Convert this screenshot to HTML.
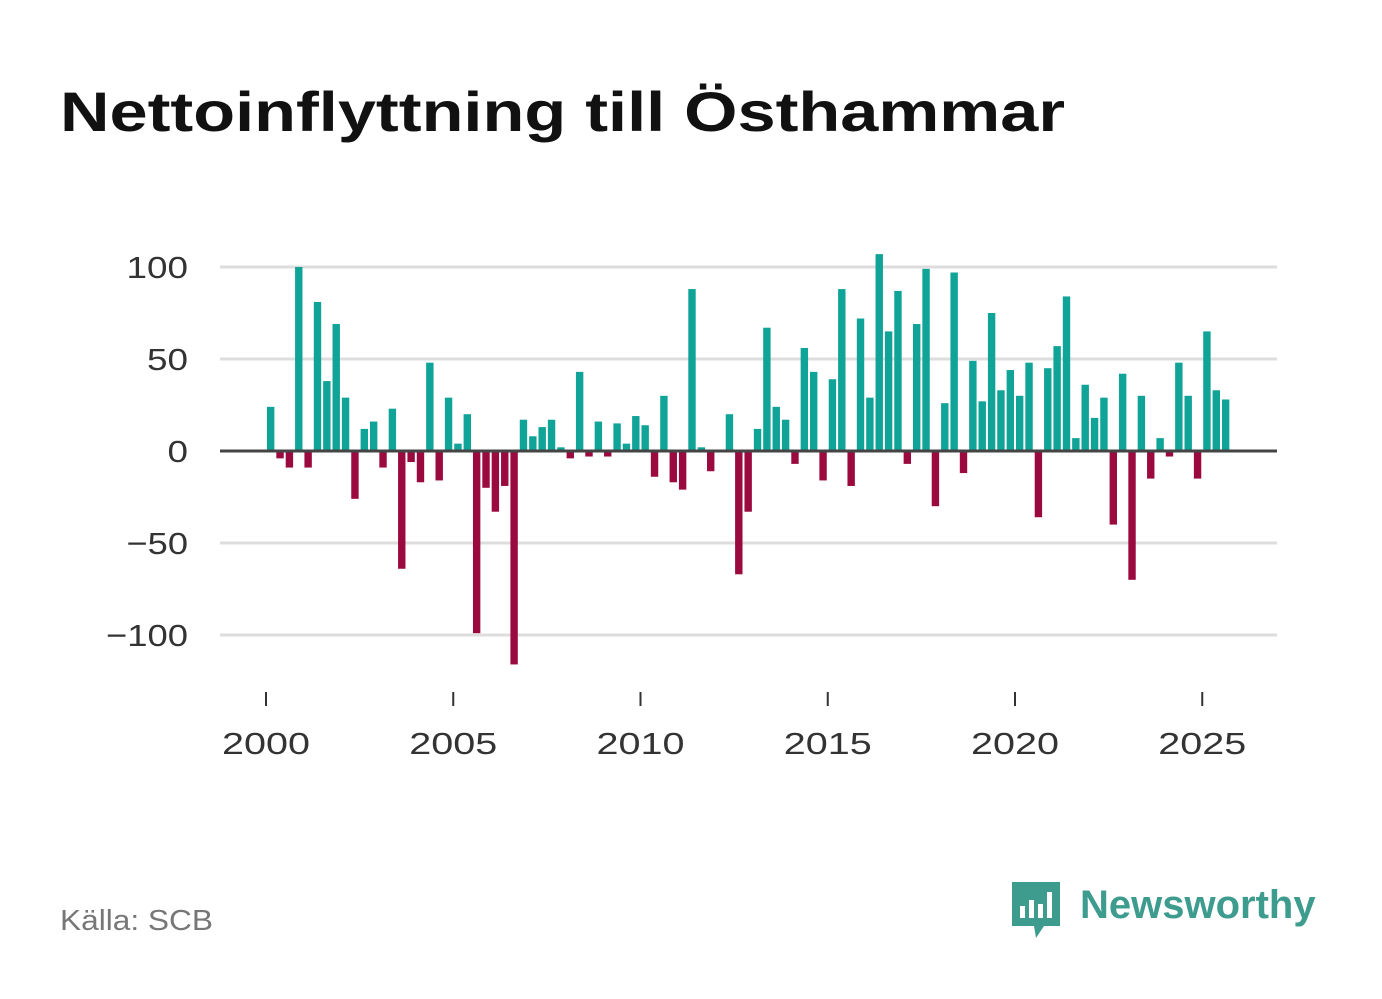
<!DOCTYPE html>
<html><head><meta charset="utf-8">
<style>
body{margin:0;background:#fff;font-family:"Liberation Sans",sans-serif;}
#wrap{position:relative;width:1382px;height:999px;overflow:hidden;}
</style></head>
<body>
<div id="wrap">
<svg id="chart" width="1382" height="999">
<text x="60" y="131" font-size="56" font-weight="bold" fill="#111" textLength="1005" lengthAdjust="spacingAndGlyphs">Nettoinflyttning till Östhammar</text>
<g id="grid"></g><g id="bars"></g><g id="xaxis"></g>
<text x="60" y="930" font-size="29" fill="#777" textLength="153" lengthAdjust="spacingAndGlyphs">Källa: SCB</text>
<g>
<path d="M1012 882 h48 v44 h-16 l-8 12 l-2 -12 h-22 z" fill="#3e9c8f"/>
<rect x="1020" y="906" width="5" height="12" fill="#fff"/><rect x="1029" y="900" width="5" height="18" fill="#fff"/><rect x="1038" y="904" width="5" height="14" fill="#fff"/><rect x="1047" y="892" width="5" height="26" fill="#fff"/>
<text x="1080" y="918" font-size="40" font-weight="bold" fill="#3e9c8f">Newsworthy</text>
</g>
</svg>
</div>
<script>
const startYear=2000;
const values=[24,-4,-9,100,-9,81,38,69,29,-26,12,16,-9,23,-64,-6,-17,48,-16,29,4,20,-99,-20,-33,-19,-116,17,8,13,17,2,-4,43,-3,16,-3,15,4,19,14,-14,30,-17,-21,88,2,-11,0,20,-67,-33,12,67,24,17,-7,56,43,-16,39,88,-19,72,29,107,65,87,-7,69,99,-30,26,97,-12,49,27,75,33,44,30,48,-36,45,57,84,7,36,18,29,-40,42,-70,30,-15,7,-3,48,30,-15,65,33,28];
const yTicks=[100,50,0,-50,-100];
const yTickLabels=["100","50","0","−50","−100"];
const xTicks=[2000,2005,2010,2015,2020,2025];
const NS="http://www.w3.org/2000/svg";
const x=t=>266+(t-2000)*37.45;
const y=v=>451-v*1.84;
function mk(tag,attrs,parent){const e=document.createElementNS(NS,tag);for(const k in attrs)e.setAttribute(k,attrs[k]);parent.appendChild(e);return e;}
const grid=document.getElementById('grid'),bars=document.getElementById('bars'),xa=document.getElementById('xaxis');
yTicks.forEach((v,i)=>{
 if(v!==0){const l=mk('line',{x1:220,x2:1277,y1:y(v),y2:y(v),stroke:'#ddd','stroke-width':3},grid);
 
 }
 const lab=yTickLabels[i];
 const t=mk('text',{x:188,y:y(v)+11,'font-size':31,fill:'#333','text-anchor':'end',textLength:lab.length*20.5,lengthAdjust:'spacingAndGlyphs'},grid);t.textContent=lab;
 
 
});
values.forEach((v,i)=>{
 const cx=x(startYear+(i+0.5)/4);
 const r=mk('rect',{x:cx-3.7,width:7.4,y:Math.min(y(v),y(0)),height:Math.abs(y(v)-y(0)),fill:v>=0?'#10a398':'#9b0a3e'},bars);
 
 
});
const zl=mk('line',{x1:220,x2:1277,y1:y(0),y2:y(0),stroke:'#444','stroke-width':3},bars);


xTicks.forEach(t=>{
 const l=mk('line',{x1:x(t),x2:x(t),y1:692,y2:706,stroke:'#333','stroke-width':2},xa);
 
 
 const tx=mk('text',{x:x(t)-44,y:754,'font-size':31,fill:'#333',textLength:88,lengthAdjust:'spacingAndGlyphs'},xa);tx.textContent=t;
 
 
});
</script>
</body></html>
